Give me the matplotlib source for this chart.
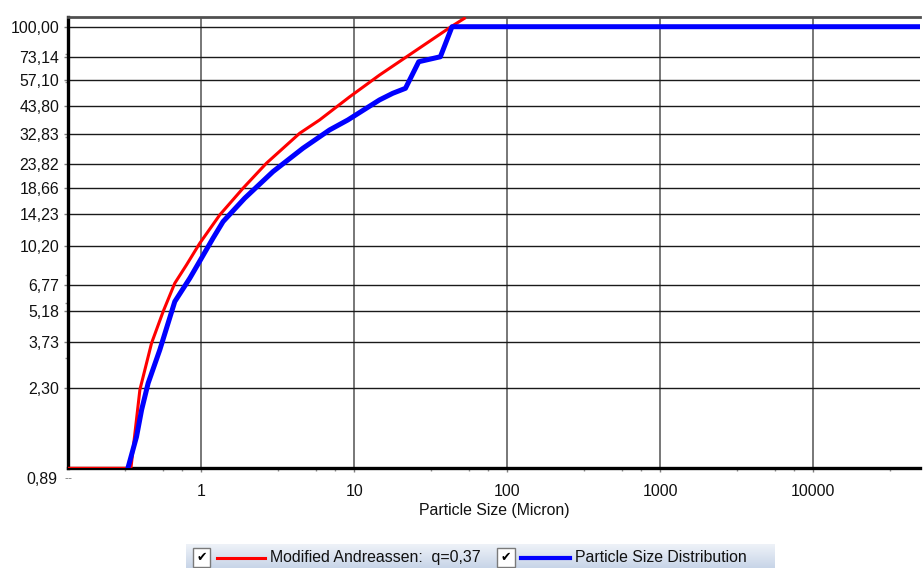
import numpy as np
import matplotlib
matplotlib.use("Agg")
import matplotlib.pyplot as plt
from matplotlib.lines import Line2D
from matplotlib.patches import Rectangle
from matplotlib.colors import LinearSegmentedColormap
from matplotlib.ticker import FixedLocator, LogLocator, NullFormatter

plt.rcParams['font.family'] = ['Liberation Sans', 'DejaVu Sans']

# measured particle size distribution (micron, cumulative % finer)
psd_size = [0.33, 0.376, 0.406, 0.448, 0.534, 0.669, 0.839, 1.0, 1.19, 1.384, 1.917,
            2.935, 4.607, 6.88, 9.06, 14.6, 17.83, 21.58, 26.35, 36.5, 43.5, 50000]
psd_cpft = [1.0, 1.39, 1.84, 2.43, 3.44, 5.69, 7.26, 8.95, 11.02, 13.10, 16.72,
            22.06, 28.15, 34.07, 37.81, 46.6, 49.95, 52.6, 69.4, 73.1, 100.0, 100.0]

# Modified Andreassen target curve
andr_size = [0.1346, 0.3455, 0.3956, 0.4716, 0.5615, 0.669, 0.798, 0.975, 1.317,
             1.869, 2.657, 4.385, 5.92, 9.30, 14.6, 42.9, 52.4]
andr_cpft = [1.0, 1.0, 2.27, 3.69, 5.13, 6.89, 8.34, 10.46, 14.05,
             18.55, 24.07, 32.91, 37.81, 48.1, 60.4, 100.0, 109.1]

series_names = ['Modified Andreassen:  q=0,37', 'Particle Size Distribution']
series_colors = ['#ff0000', '#0000ff']
series_widths = [2.2, 3.6]

y_ticks = [2.30, 3.73, 5.18, 6.77, 10.20, 14.23, 18.66, 23.82, 32.83, 43.80, 57.10, 73.14, 100.00]
y_bottom_label = 0.89
x_ticks = [1, 10, 100, 1000, 10000]

W, H = 923, 568
fig = plt.figure(figsize=(W / 100, H / 100), dpi=100)
ax = fig.add_axes([68.3 / W, 1 - 468.3 / H, (920 - 68.3) / W, (468.3 - 16.7) / H])

ax.plot(andr_size, andr_cpft, color=series_colors[0], lw=series_widths[0], zorder=3)
ax.plot(psd_size, psd_cpft, color=series_colors[1], lw=series_widths[1], zorder=4)

ax.set_xscale('log')
ax.set_yscale('log')
ax.set_xlim(0.1346, 50000)
ax.set_ylim(1.0, 111)

fs = 11.4
ax.yaxis.set_major_locator(FixedLocator(y_ticks))
ax.set_yticklabels([f"{v:.2f}".replace('.', ',') for v in y_ticks], fontsize=fs)
ax.yaxis.set_minor_locator(LogLocator(subs=[10 ** 0.5, 10 ** 0.75, 10 ** 0.875]))
ax.yaxis.set_minor_formatter(NullFormatter())

ax.xaxis.set_major_locator(FixedLocator(x_ticks))
ax.set_xticklabels([str(v) for v in x_ticks], fontsize=fs)
ax.xaxis.set_minor_locator(LogLocator(subs=[10 ** 0.5, 10 ** 0.75, 10 ** 0.875]))
ax.xaxis.set_minor_formatter(NullFormatter())

ax.tick_params(axis='both', which='major', length=3, width=1, color='#808080', labelcolor='#111111')
ax.tick_params(axis='y', which='major', pad=3.6)
ax.tick_params(axis='x', which='major', pad=8.5)
ax.tick_params(axis='both', which='minor', length=2.5, width=1, color='#909090')

ax.set_xlabel('Particle Size (Micron)', fontsize=fs, labelpad=3, color='#111111')

ax.grid(axis='y', which='major', color='#1a1a1a', lw=1)
ax.grid(axis='x', which='major', color='#606060', lw=1.2)
ax.set_axisbelow(True)

for side in ['left', 'bottom']:
    ax.spines[side].set_color('black')
    ax.spines[side].set_linewidth(2.4)
ax.spines['top'].set_color('#505050')
ax.spines['top'].set_linewidth(2)
ax.spines['right'].set_visible(False)

# bottom label sits below the axis range
ax.annotate(f"{y_bottom_label:.2f}".replace('.', ','), xy=(0, y_bottom_label),
            xycoords=('axes fraction', 'data'), xytext=(-11, 0), textcoords='offset pixels',
            ha='right', va='center', fontsize=fs, color='#111111', annotation_clip=False)
ax.annotate("--", xy=(0, y_bottom_label), xycoords=('axes fraction', 'data'),
            xytext=(0, 0), textcoords='offset pixels', ha='center', va='center',
            fontsize=9, color='#808080', annotation_clip=False)

# legend bar with checkboxes
def fx(px):
    return px / W

def fy(py):
    return 1 - py / H

bar = fig.add_axes([fx(186), 0, fx(775) - fx(186), 24 / H])
grad = np.linspace(0, 1, 50).reshape(-1, 1)
cmap = LinearSegmentedColormap.from_list('bar', ['#eef2f8', '#c8d5e8'])
bar.imshow(grad, aspect='auto', cmap=cmap, extent=[0, 1, 0, 1], origin='upper')
bar.set_axis_off()

box_x = [192.7, 497]
line_x = [(216.6, 264.5), (520.7, 570)]
legend_widths = [2.2, 3.0]
text_x = [270, 574.8]
yc = 557.5
for i, name in enumerate(series_names):
    fig.patches.append(Rectangle((fx(box_x[i]), fy(566.7)), fx(17.5), 18.4 / H,
                                 transform=fig.transFigure, facecolor='white',
                                 edgecolor='#7a7a7a', lw=1, zorder=5))
    fig.text(fx(box_x[i] + 8.8), fy(yc), '\u2714', ha='center', va='center',
             fontsize=9, color='black', family='DejaVu Sans', zorder=6)
    fig.lines.append(Line2D([fx(line_x[i][0]), fx(line_x[i][1])], [fy(yc + 0.5), fy(yc + 0.5)],
                            transform=fig.transFigure, color=series_colors[i],
                            lw=legend_widths[i], zorder=5))
    fig.text(fx(text_x[i]), fy(yc), name, ha='left', va='center', fontsize=fs,
             color='#111111', zorder=6)

fig.savefig('out.png', dpi=100)
